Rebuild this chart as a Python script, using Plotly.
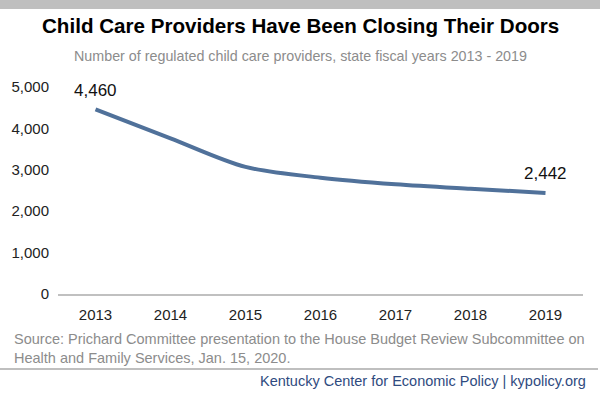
import plotly.graph_objects as go

years = ["2013", "2014", "2015", "2016", "2017", "2018", "2019"]
providers = [4460, 3760, 3070, 2810, 2650, 2540, 2442]
label_years = ["2013", "2019"]
label_values = [4460, 2442]
label_texts = ["4,460", "2,442"]
y_ticks = [0, 1000, 2000, 3000, 4000, 5000]
y_ticktext = ["0", "1,000", "2,000", "3,000", "4,000", "5,000"]

FONT = "Arial, Liberation Sans, sans-serif"
LINE = "#50719A"

ML, MR, MT, MB = 58, 17, 87, 100
W, H = 600, 394
plot_h = H - MT - MB
plot_w = W - ML - MR


def py(pix):
    return (H - MB - pix) / plot_h


def px(pix):
    return (pix - ML) / plot_w


fig = go.Figure()
fig.add_trace(go.Scatter(
    x=years, y=providers, mode="lines",
    line=dict(color=LINE, width=4, shape="spline", smoothing=0.9),
    hoverinfo="skip", showlegend=False,
))

for xv, yv, t in zip(label_years, label_values, label_texts):
    fig.add_annotation(x=years.index(xv), y=yv, text=t, showarrow=False, yshift=19,
                       font=dict(family=FONT, size=17, color="#111111"))

fig.update_layout(
    width=W, height=H,
    margin=dict(l=ML, r=MR, t=MT, b=MB),
    paper_bgcolor="white", plot_bgcolor="white",
    font=dict(family=FONT),
    xaxis=dict(type="category", range=[-0.5, 6.5], showgrid=False, zeroline=False,
               showline=True, linecolor="#C0C0C0", linewidth=2, ticks="",
               tickfont=dict(family=FONT, size=15, color="#222222"),
               ticklabelstandoff=6, fixedrange=True),
    yaxis=dict(range=[0, 5000], tickvals=y_ticks, ticktext=y_ticktext,
               showgrid=False, zeroline=False, showline=False, ticks="",
               tickfont=dict(family=FONT, size=15, color="#222222"),
               ticklabelstandoff=8, fixedrange=True),
    shapes=[
        dict(type="rect", xref="paper", yref="paper", x0=px(0), x1=px(600), y0=py(9), y1=py(0),
             fillcolor="#BFBFBF", line=dict(width=0), layer="below"),
        dict(type="line", xref="paper", yref="paper", x0=px(0), x1=px(598), y0=py(369), y1=py(369),
             line=dict(color="#BFBFBF", width=2)),
    ],
)

fig.add_annotation(xref="paper", yref="paper", x=px(300), y=py(25),
                   text="<b>Child Care Providers Have Been Closing Their Doors</b>",
                   showarrow=False, xanchor="center", yanchor="middle",
                   font=dict(family=FONT, size=20.6, color="#000000"))
fig.add_annotation(xref="paper", yref="paper", x=px(300), y=py(56),
                   text="Number of regulated child care providers, state fiscal years 2013 - 2019",
                   showarrow=False, xanchor="center", yanchor="middle",
                   font=dict(family=FONT, size=14.3, color="#8C8C8C"))
fig.add_annotation(xref="paper", yref="paper", x=px(12), y=py(348),
                   text="Source: Prichard Committee presentation to the House Budget Review Subcommittee on<br>Health and Family Services, Jan. 15, 2020.",
                   showarrow=False, xanchor="left", yanchor="middle", align="left",
                   font=dict(family=FONT, size=14.5, color="#8C8C8C"))
fig.add_annotation(xref="paper", yref="paper", x=px(588), y=py(381),
                   text="Kentucky Center for Economic Policy | kypolicy.org",
                   showarrow=False, xanchor="right", yanchor="middle",
                   font=dict(family=FONT, size=14.5, color="#2F4B80"))

fig.write_html("out.html", config={"displayModeBar": False},
               post_script="document.body.style.margin='0';document.body.style.padding='0';")
